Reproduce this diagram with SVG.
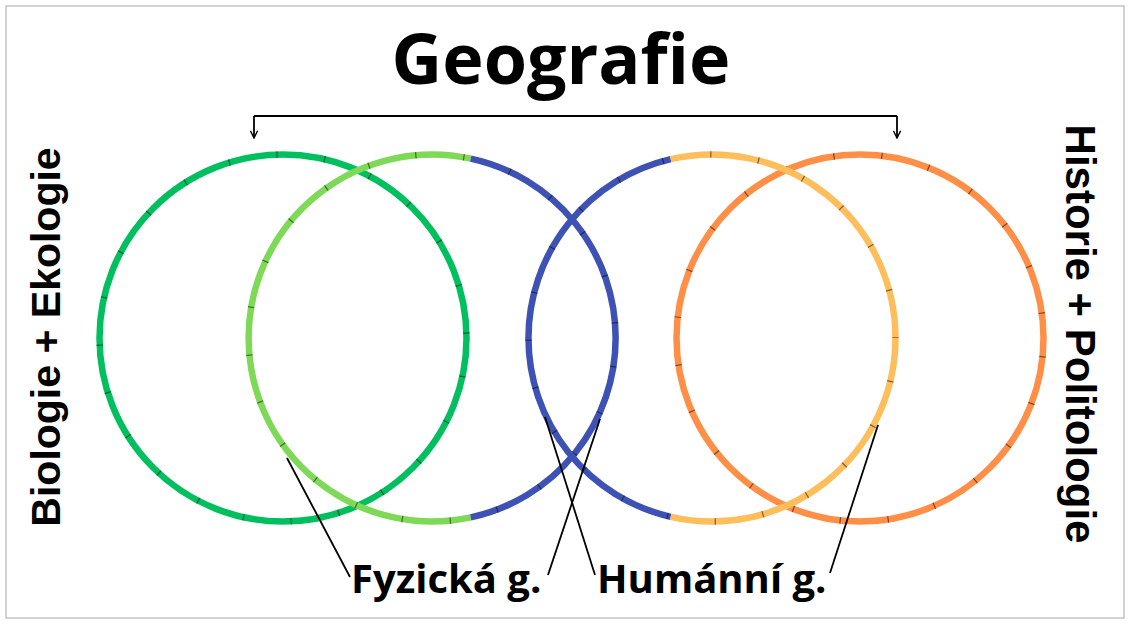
<svg xmlns="http://www.w3.org/2000/svg" width="1130" height="624" viewBox="0 0 1130 624">
  <style>
    .ring { fill: none; stroke-width: 6.5; }
    .tick { fill: none; stroke: #000; stroke-opacity: 0.5; stroke-width: 6.5; stroke-dasharray: 1.2 47; }
    .title { font-family: "Open Sans", "Liberation Sans", sans-serif; font-weight: 700; fill: #000; }
    .side { font-family: "Liberation Sans", Arial, sans-serif; font-weight: 700; fill: #000; }
    .conn { stroke: #000; stroke-width: 1.8; fill: none; }
  </style>
  <defs>
    <marker id="arrow" viewBox="0 0 10 10" refX="9" refY="5" markerWidth="5" markerHeight="5" orient="auto" markerUnits="strokeWidth">
      <path d="M1 1 L9 5 L1 9" fill="none" stroke="#000" stroke-width="1.6"/>
    </marker>
  </defs>
  <rect x="0" y="0" width="1130" height="624" fill="#fff"/>
  <rect x="6" y="6" width="1118" height="612" fill="none" stroke="#c4c4c4" stroke-width="1.5"/>

  <g id="title">
    <text class="title" x="561" y="84" font-size="70" text-anchor="middle">Geografie</text>
  </g>

  <g id="circle-biologie">
    <circle class="ring" cx="283" cy="338" r="183.5" stroke="#00bf5f"/>
    <circle class="tick" cx="283" cy="338" r="183.5" stroke-dashoffset="10"/>
  </g>
  <g id="circle-historie">
    <circle class="ring" cx="860" cy="338" r="183.5" stroke="#ff8e47"/>
    <circle class="tick" cx="860" cy="338" r="183.5" stroke-dashoffset="30"/>
  </g>
  <g id="circle-fyzicka">
    <path class="ring" d="M470.7 158.6 A183.5 183.5 0 1 0 470.7 517.4" stroke="#7ed957"/>
    <path class="ring" d="M470.7 158.6 A183.5 183.5 0 0 1 470.7 517.4" stroke="#3d52b4"/>
    <circle class="tick" cx="432" cy="338" r="183.5" stroke-dashoffset="20"/>
  </g>
  <g id="circle-humanni">
    <path class="ring" d="M670.7 159.2 A183.5 183.5 0 0 0 670.7 516.8" stroke="#3d52b4"/>
    <path class="ring" d="M670.7 159.2 A183.5 183.5 0 1 1 670.7 516.8" stroke="#ffbe5c"/>
    <circle class="tick" cx="712" cy="338" r="183.5" stroke-dashoffset="5"/>
  </g>

  <g id="label-biologie">
    <text class="side" transform="translate(60,337) rotate(-90)" font-size="41" text-anchor="middle">Biologie + Ekologie</text>
  </g>
  <g id="label-historie">
    <text class="side" transform="translate(1066,334) rotate(90)" font-size="42" text-anchor="middle">Historie + Politologie</text>
  </g>
  <g id="label-fyzicka">
    <text class="title" x="351" y="593" font-size="40">Fyzická g.</text>
  </g>
  <g id="label-humanni">
    <text class="title" x="597" y="593" font-size="40">Humánní g.</text>
  </g>

  <g id="connectors">
    <path class="conn" d="M254 116 H897"/>
    <path class="conn" d="M254 116 V138" marker-end="url(#arrow)"/>
    <path class="conn" d="M897 116 V138" marker-end="url(#arrow)"/>
    <path class="conn" d="M287 458 L350 577"/>
    <path class="conn" d="M600 419 L548 575"/>
    <path class="conn" d="M545 417 L595 575"/>
    <path class="conn" d="M878 425 L830 573"/>
  </g>
</svg>
